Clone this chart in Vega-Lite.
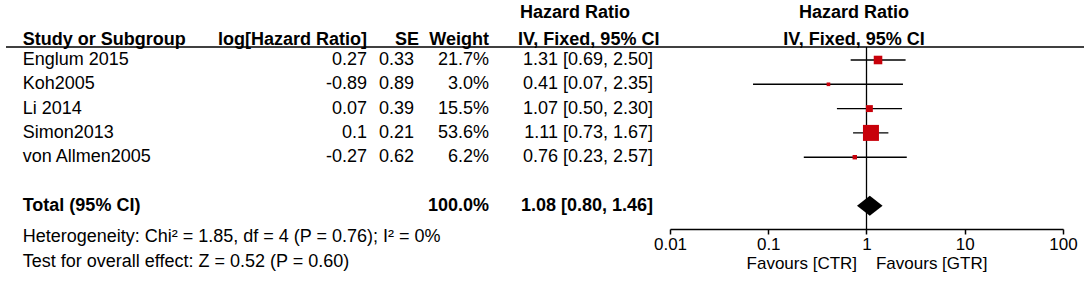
{
  "$schema": "https://vega.github.io/schema/vega-lite/v6.json",
  "padding": {"left": 5, "right": 0, "top": 0, "bottom": 0},
  "autosize": {"type": "pad"},
  "spacing": 0,
  "bounds": "flush",
  "config": {
    "font": "Liberation Sans",
    "view": {"stroke": null},
    "text": {"fontSize": 18, "color": "black", "baseline": "middle"}
  },
  "datasets": {
    "studies": [
      {"study": "Englum 2015", "loghr": 0.27, "se": 0.33, "weight": 0.217, "hr": 1.31, "lo": 0.69, "hi": 2.50, "ci": "1.31 [0.69, 2.50]"},
      {"study": "Koh2005", "loghr": -0.89, "se": 0.89, "weight": 0.030, "hr": 0.41, "lo": 0.07, "hi": 2.35, "ci": "0.41 [0.07, 2.35]"},
      {"study": "Li 2014", "loghr": 0.07, "se": 0.39, "weight": 0.155, "hr": 1.07, "lo": 0.50, "hi": 2.30, "ci": "1.07 [0.50, 2.30]"},
      {"study": "Simon2013", "loghr": 0.1, "se": 0.21, "weight": 0.536, "hr": 1.11, "lo": 0.73, "hi": 1.67, "ci": "1.11 [0.73, 1.67]"},
      {"study": "von Allmen2005", "loghr": -0.27, "se": 0.62, "weight": 0.062, "hr": 0.76, "lo": 0.23, "hi": 2.57, "ci": "0.76 [0.23, 2.57]"}
    ],
    "total": [
      {"study": "Total (95% CI)", "weight": 1.0, "hr": 1.08, "lo": 0.80, "hi": 1.46, "ci": "1.08 [0.80, 1.46]"}
    ],
    "notes": [
      {"line": "het", "text": "Heterogeneity: Chi² = 1.85, df = 4 (P = 0.76); I² = 0%"},
      {"line": "test", "text": "Test for overall effect: Z = 0.52 (P = 0.60)"}
    ]
  },
  "hconcat": [
    {
      "width": 195, "height": 288,
      "layer": [
        {"data": {"values": [{}]}, "mark": {"type": "rule", "color": "black", "strokeWidth": 1.5}, "encoding": {"x": {"value": 0}, "x2": {"value": "width"}, "y": {"value": 47}}},
        {"data": {"values": [{"t": "Study or Subgroup"}]}, "mark": {"type": "text", "align": "left", "fontWeight": "bold", "dx": 16.7, "dy": 3.9},
         "encoding": {"x": {"value": 0}, "y": {"datum": "header", "type": "nominal", "scale": {"type": "point", "domain": ["header", "Englum 2015", "Koh2005", "Li 2014", "Simon2013", "von Allmen2005", "gap", "Total (95% CI)", "het", "test"], "range": [35.7, 254.4], "padding": 0}, "axis": null}, "text": {"field": "t"}}},
        {"data": {"name": "studies"}, "mark": {"type": "text", "align": "left", "dx": 16.7},
         "encoding": {"x": {"value": 0}, "y": {"field": "study", "type": "nominal", "scale": {"type": "point", "domain": ["header", "Englum 2015", "Koh2005", "Li 2014", "Simon2013", "von Allmen2005", "gap", "Total (95% CI)", "het", "test"], "range": [35.7, 254.4], "padding": 0}, "axis": null}, "text": {"field": "study"}}},
        {"data": {"name": "total"}, "mark": {"type": "text", "align": "left", "fontWeight": "bold", "dx": 16.7},
         "encoding": {"x": {"value": 0}, "y": {"field": "study", "type": "nominal", "scale": {"type": "point", "domain": ["header", "Englum 2015", "Koh2005", "Li 2014", "Simon2013", "von Allmen2005", "gap", "Total (95% CI)", "het", "test"], "range": [35.7, 254.4], "padding": 0}, "axis": null}, "text": {"field": "study"}}},
        {"data": {"name": "notes"}, "mark": {"type": "text", "align": "left", "dx": 16.7, "dy": 7.3},
         "encoding": {"x": {"value": 0}, "y": {"field": "line", "type": "nominal", "scale": {"type": "point", "domain": ["header", "Englum 2015", "Koh2005", "Li 2014", "Simon2013", "von Allmen2005", "gap", "Total (95% CI)", "het", "test"], "range": [35.7, 254.4], "padding": 0}, "axis": null}, "text": {"field": "text"}}}
      ]
    },
    {
      "width": 166, "height": 288,
      "layer": [
        {"data": {"values": [{}]}, "mark": {"type": "rule", "color": "black", "strokeWidth": 1.5}, "encoding": {"x": {"value": 0}, "x2": {"value": "width"}, "y": {"value": 47}}},
        {"data": {"values": [{"t": "log[Hazard Ratio]"}]}, "mark": {"type": "text", "align": "right", "fontWeight": "bold", "dy": 3.9},
         "encoding": {"x": {"value": "width"}, "y": {"datum": "header", "type": "nominal", "scale": {"type": "point", "domain": ["header", "Englum 2015", "Koh2005", "Li 2014", "Simon2013", "von Allmen2005", "gap", "Total (95% CI)", "het", "test"], "range": [35.7, 254.4], "padding": 0}, "axis": null}, "text": {"field": "t"}}},
        {"data": {"name": "studies"}, "mark": {"type": "text", "align": "right"},
         "encoding": {"x": {"value": "width"}, "y": {"field": "study", "type": "nominal", "scale": {"type": "point", "domain": ["header", "Englum 2015", "Koh2005", "Li 2014", "Simon2013", "von Allmen2005", "gap", "Total (95% CI)", "het", "test"], "range": [35.7, 254.4], "padding": 0}, "axis": null}, "text": {"field": "loghr", "type": "nominal"}}}
      ]
    },
    {
      "width": 52, "height": 288,
      "layer": [
        {"data": {"values": [{}]}, "mark": {"type": "rule", "color": "black", "strokeWidth": 1.5}, "encoding": {"x": {"value": 0}, "x2": {"value": "width"}, "y": {"value": 47}}},
        {"data": {"values": [{"t": "SE"}]}, "mark": {"type": "text", "align": "right", "fontWeight": "bold", "dy": 3.9},
         "encoding": {"x": {"value": "width"}, "y": {"datum": "header", "type": "nominal", "scale": {"type": "point", "domain": ["header", "Englum 2015", "Koh2005", "Li 2014", "Simon2013", "von Allmen2005", "gap", "Total (95% CI)", "het", "test"], "range": [35.7, 254.4], "padding": 0}, "axis": null}, "text": {"field": "t"}}},
        {"data": {"name": "studies"}, "mark": {"type": "text", "align": "right", "dx": -5},
         "encoding": {"x": {"value": "width"}, "y": {"field": "study", "type": "nominal", "scale": {"type": "point", "domain": ["header", "Englum 2015", "Koh2005", "Li 2014", "Simon2013", "von Allmen2005", "gap", "Total (95% CI)", "het", "test"], "range": [35.7, 254.4], "padding": 0}, "axis": null}, "text": {"field": "se", "type": "nominal"}}}
      ]
    },
    {
      "width": 70, "height": 288,
      "layer": [
        {"data": {"values": [{}]}, "mark": {"type": "rule", "color": "black", "strokeWidth": 1.5}, "encoding": {"x": {"value": 0}, "x2": {"value": "width"}, "y": {"value": 47}}},
        {"data": {"values": [{"t": "Weight"}]}, "mark": {"type": "text", "align": "right", "fontWeight": "bold", "dy": 3.9},
         "encoding": {"x": {"value": "width"}, "y": {"datum": "header", "type": "nominal", "scale": {"type": "point", "domain": ["header", "Englum 2015", "Koh2005", "Li 2014", "Simon2013", "von Allmen2005", "gap", "Total (95% CI)", "het", "test"], "range": [35.7, 254.4], "padding": 0}, "axis": null}, "text": {"field": "t"}}},
        {"data": {"name": "studies"}, "mark": {"type": "text", "align": "right"},
         "encoding": {"x": {"value": "width"}, "y": {"field": "study", "type": "nominal", "scale": {"type": "point", "domain": ["header", "Englum 2015", "Koh2005", "Li 2014", "Simon2013", "von Allmen2005", "gap", "Total (95% CI)", "het", "test"], "range": [35.7, 254.4], "padding": 0}, "axis": null}, "text": {"field": "weight", "type": "quantitative", "format": ".1%"}}},
        {"data": {"name": "total"}, "mark": {"type": "text", "align": "right", "fontWeight": "bold"},
         "encoding": {"x": {"value": "width"}, "y": {"field": "study", "type": "nominal", "scale": {"type": "point", "domain": ["header", "Englum 2015", "Koh2005", "Li 2014", "Simon2013", "von Allmen2005", "gap", "Total (95% CI)", "het", "test"], "range": [35.7, 254.4], "padding": 0}, "axis": null}, "text": {"field": "weight", "type": "quantitative", "format": ".1%"}}}
      ]
    },
    {
      "width": 164, "height": 288,
      "layer": [
        {"data": {"values": [{}]}, "mark": {"type": "rule", "color": "black", "strokeWidth": 1.5}, "encoding": {"x": {"value": 0}, "x2": {"value": "width"}, "y": {"value": 47}}},
        {"data": {"values": [{"t": "IV, Fixed, 95% CI"}]}, "mark": {"type": "text", "align": "left", "fontWeight": "bold", "dx": 29, "dy": 3.9},
         "encoding": {"x": {"value": 0}, "y": {"datum": "header", "type": "nominal", "scale": {"type": "point", "domain": ["header", "Englum 2015", "Koh2005", "Li 2014", "Simon2013", "von Allmen2005", "gap", "Total (95% CI)", "het", "test"], "range": [35.7, 254.4], "padding": 0}, "axis": null}, "text": {"field": "t"}}},
        {"data": {"values": [{"t": "Hazard Ratio"}]}, "mark": {"type": "text", "align": "left", "fontWeight": "bold", "dx": 31, "dy": -22.7},
         "encoding": {"x": {"value": 0}, "y": {"datum": "header", "type": "nominal", "scale": {"type": "point", "domain": ["header", "Englum 2015", "Koh2005", "Li 2014", "Simon2013", "von Allmen2005", "gap", "Total (95% CI)", "het", "test"], "range": [35.7, 254.4], "padding": 0}, "axis": null}, "text": {"field": "t"}}},
        {"data": {"name": "studies"}, "mark": {"type": "text", "align": "right"},
         "encoding": {"x": {"value": "width"}, "y": {"field": "study", "type": "nominal", "scale": {"type": "point", "domain": ["header", "Englum 2015", "Koh2005", "Li 2014", "Simon2013", "von Allmen2005", "gap", "Total (95% CI)", "het", "test"], "range": [35.7, 254.4], "padding": 0}, "axis": null}, "text": {"field": "ci"}}},
        {"data": {"name": "total"}, "mark": {"type": "text", "align": "right", "fontWeight": "bold"},
         "encoding": {"x": {"value": "width"}, "y": {"field": "study", "type": "nominal", "scale": {"type": "point", "domain": ["header", "Englum 2015", "Koh2005", "Li 2014", "Simon2013", "von Allmen2005", "gap", "Total (95% CI)", "het", "test"], "range": [35.7, 254.4], "padding": 0}, "axis": null}, "text": {"field": "ci"}}}
      ]
    },
    {
      "width": 432, "height": 229,
      "layer": [
        {"data": {"values": [{}]}, "mark": {"type": "rule", "color": "black", "strokeWidth": 1.5}, "encoding": {"x": {"value": 0}, "x2": {"value": "width"}, "y": {"value": 47}}},
        {"data": {"values": [{"t": "IV, Fixed, 95% CI"}]}, "mark": {"type": "text", "align": "center", "fontWeight": "bold", "dy": 3.9},
         "encoding": {"x": {"value": 201}, "y": {"datum": "header", "type": "nominal", "scale": {"type": "point", "domain": ["header", "Englum 2015", "Koh2005", "Li 2014", "Simon2013", "von Allmen2005", "gap", "Total (95% CI)", "het", "test"], "range": [35.7, 254.4], "padding": 0}, "axis": null}, "text": {"field": "t"}}},
        {"data": {"values": [{"t": "Hazard Ratio"}]}, "mark": {"type": "text", "align": "center", "fontWeight": "bold", "dy": -22.7},
         "encoding": {"x": {"value": 201}, "y": {"datum": "header", "type": "nominal", "scale": {"type": "point", "domain": ["header", "Englum 2015", "Koh2005", "Li 2014", "Simon2013", "von Allmen2005", "gap", "Total (95% CI)", "het", "test"], "range": [35.7, 254.4], "padding": 0}, "axis": null}, "text": {"field": "t"}}},
        {"data": {"values": [{"ref": 1}]}, "mark": {"type": "rule", "color": "black", "strokeWidth": 1.3},
         "encoding": {"x": {"field": "ref", "type": "quantitative", "scale": {"type": "log", "domain": [0.01, 100], "range": [17, 410]},
                 "axis": {"orient": "bottom", "values": [0.01, 0.1, 1, 10, 100], "format": "~g", "grid": false, "domainColor": "black", "domainWidth": 1.5, "tickColor": "black", "tickWidth": 1.5, "tickSize": 5, "labelFontSize": 17, "labelColor": "black", "labelPadding": 2, "labelFlush": false, "labelOverlap": false, "title": "Favours [CTR]\u00a0\u00a0\u00a0\u00a0Favours [GTR]", "titleFontSize": 17, "titleFontWeight": "normal", "titleColor": "black", "titlePadding": 3}},
                 "y": {"value": 47}, "y2": {"value": 229}}},
        {"data": {"name": "studies"}, "mark": {"type": "rule", "color": "black", "strokeWidth": 1.4},
         "encoding": {
           "x": {"field": "lo", "type": "quantitative", "scale": {"type": "log", "domain": [0.01, 100], "range": [17, 410]},
                 "axis": {"orient": "bottom", "values": [0.01, 0.1, 1, 10, 100], "format": "~g", "grid": false, "domainColor": "black", "domainWidth": 1.5, "tickColor": "black", "tickWidth": 1.5, "tickSize": 5, "labelFontSize": 17, "labelColor": "black", "labelPadding": 2, "labelFlush": false, "labelOverlap": false, "title": "Favours [CTR]\u00a0\u00a0\u00a0\u00a0Favours [GTR]", "titleFontSize": 17, "titleFontWeight": "normal", "titleColor": "black", "titlePadding": 3}},
           "x2": {"field": "hi"},
           "y": {"field": "study", "type": "nominal", "scale": {"type": "point", "domain": ["header", "Englum 2015", "Koh2005", "Li 2014", "Simon2013", "von Allmen2005", "gap", "Total (95% CI)", "het", "test"], "range": [35.7, 254.4], "padding": 0}, "axis": null}
         }},
        {"data": {"name": "studies"}, "mark": {"type": "point", "shape": "square", "filled": true, "color": "#c8000a", "opacity": 1},
         "encoding": {
           "x": {"field": "hr", "type": "quantitative", "scale": {"type": "log", "domain": [0.01, 100], "range": [17, 410]},
                 "axis": {"orient": "bottom", "values": [0.01, 0.1, 1, 10, 100], "format": "~g", "grid": false, "domainColor": "black", "domainWidth": 1.5, "tickColor": "black", "tickWidth": 1.5, "tickSize": 5, "labelFontSize": 17, "labelColor": "black", "labelPadding": 2, "labelFlush": false, "labelOverlap": false, "title": "Favours [CTR]\u00a0\u00a0\u00a0\u00a0Favours [GTR]", "titleFontSize": 17, "titleFontWeight": "normal", "titleColor": "black", "titlePadding": 3}},
           "y": {"field": "study", "type": "nominal", "scale": {"type": "point", "domain": ["header", "Englum 2015", "Koh2005", "Li 2014", "Simon2013", "von Allmen2005", "gap", "Total (95% CI)", "het", "test"], "range": [35.7, 254.4], "padding": 0}, "axis": null},
           "size": {"field": "weight", "type": "quantitative", "scale": {"type": "pow", "exponent": 1.5, "domain": [0, 0.536], "range": [10, 256], "zero": false}, "legend": null}
         }},
        {"data": {"name": "total"}, "mark": {"type": "point", "shape": "M-1,0L0,-0.78L1,0L0,0.78Z", "filled": true, "color": "black", "opacity": 1, "size": 655},
         "encoding": {
           "x": {"field": "hr", "type": "quantitative", "scale": {"type": "log", "domain": [0.01, 100], "range": [17, 410]},
                 "axis": {"orient": "bottom", "values": [0.01, 0.1, 1, 10, 100], "format": "~g", "grid": false, "domainColor": "black", "domainWidth": 1.5, "tickColor": "black", "tickWidth": 1.5, "tickSize": 5, "labelFontSize": 17, "labelColor": "black", "labelPadding": 2, "labelFlush": false, "labelOverlap": false, "title": "Favours [CTR]\u00a0\u00a0\u00a0\u00a0Favours [GTR]", "titleFontSize": 17, "titleFontWeight": "normal", "titleColor": "black", "titlePadding": 3}},
           "y": {"field": "study", "type": "nominal", "scale": {"type": "point", "domain": ["header", "Englum 2015", "Koh2005", "Li 2014", "Simon2013", "von Allmen2005", "gap", "Total (95% CI)", "het", "test"], "range": [35.7, 254.4], "padding": 0}, "axis": null}
         }}
      ]
    }
  ]
}
